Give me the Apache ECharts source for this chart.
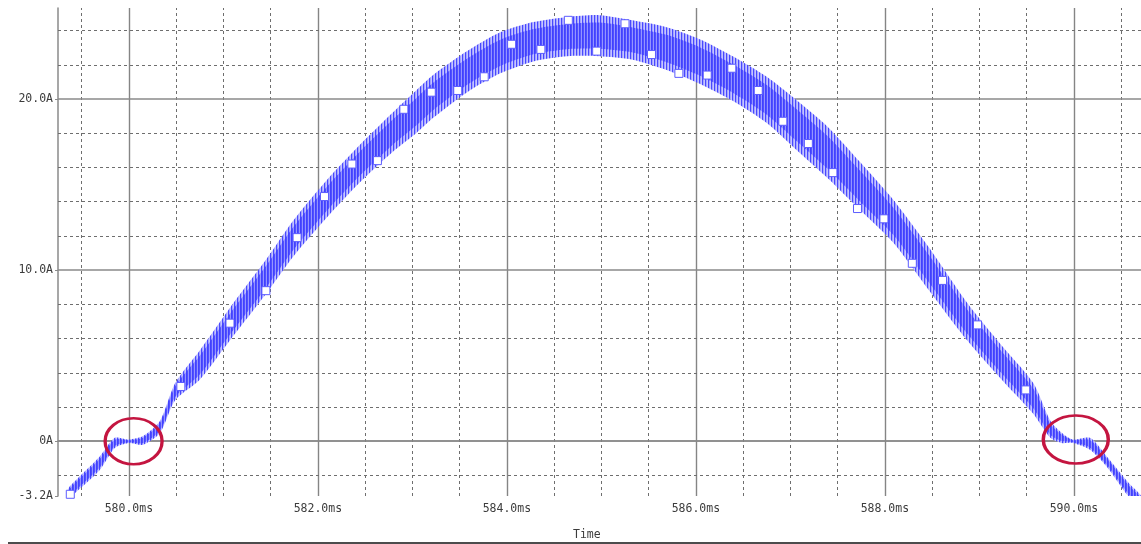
<!DOCTYPE html>
<html>
<head>
<meta charset="utf-8">
<script src="https://cdn.jsdelivr.net/npm/echarts@6/dist/echarts.min.js"></script>
<style>
  html, body { margin: 0; padding: 0; background: #fff; }
  #chart { width: 1141px; height: 544px; }
</style>
</head>
<body>
<div id="chart"></div>
<script>
// Inductor current, ripple band (ms, A)
const TIME_MS = [579.35, 579.38, 579.69, 579.85, 580.0, 580.15, 580.33, 580.49, 580.75, 581.07, 581.45, 581.74, 582.10, 582.44, 582.79, 583.04, 583.22, 583.58, 583.93, 584.28, 584.64, 584.98, 585.33, 585.69, 586.04, 586.39, 586.75, 587.05, 587.39, 587.74, 588.09, 588.47, 588.87, 589.22, 589.57, 589.75, 589.87, 589.99, 590.17, 590.35, 590.59, 590.71];
const RIPPLE_HIGH = [-2.9, -2.6, -0.9, 0.2, 0.1, 0.3, 1.2, 3.4, 5.3, 7.8, 10.6, 12.9, 15.3, 17.3, 19.2, 20.5, 21.4, 22.8, 23.9, 24.5, 24.8, 24.9, 24.6, 24.2, 23.5, 22.5, 21.3, 20.0, 18.4, 16.3, 14.1, 11.3, 8.1, 5.7, 3.4, 1.2, 0.5, 0.1, 0.2, -0.9, -2.5, -3.2];
const RIPPLE_LOW = [-3.6, -3.3, -1.7, -0.4, -0.1, -0.2, 0.5, 2.4, 3.6, 5.9, 8.6, 10.8, 13.1, 15.1, 16.9, 18.0, 18.9, 20.4, 21.5, 22.2, 22.5, 22.5, 22.3, 21.7, 20.9, 19.9, 18.6, 17.1, 15.4, 13.5, 11.6, 8.8, 5.9, 3.7, 1.6, 0.2, -0.1, -0.1, -0.5, -1.5, -3.3, -3.8];

// trace markers (squares)
const MARK_T = [579.38, 580.55, 581.07, 581.45, 581.78, 582.07, 582.36, 582.63, 582.91, 583.20, 583.48, 583.76, 584.05, 584.36, 584.65, 584.95, 585.25, 585.53, 585.82, 586.12, 586.38, 586.66, 586.92, 587.19, 587.45, 587.71, 587.99, 588.29, 588.61, 588.98, 589.49];
const MARK_I = [-3.1, 3.2, 6.9, 8.8, 11.9, 14.3, 16.2, 16.4, 19.4, 20.4, 20.5, 21.3, 23.2, 22.9, 24.6, 22.8, 24.4, 22.6, 21.5, 21.4, 21.8, 20.5, 18.7, 17.4, 15.7, 13.6, 13.0, 10.4, 9.4, 6.8, 3.0];

// red circles at the zero crossings
const CIRCLE_T = [580.05, 590.02];
const CIRCLE_I = [0.0, 0.1];

// axis ticks
const X_LABELS = [580, 582, 584, 586, 588, 590];
const X_MINOR = [579.5, 580.5, 581, 581.5, 582.5, 583, 583.5, 584.5, 585, 585.5, 586.5, 587, 587.5, 588.5, 589, 589.5, 590.5];
const Y_LABELS = [-3.2, 0, 10, 20];
const Y_MAJOR = [0, 10, 20];
const Y_MINOR = [-2, 2, 4, 6, 8, 12, 14, 16, 18, 22, 24];

const FONT = "'DejaVu Sans Mono', monospace";

function stripes(cols) {
  const c = document.createElement("canvas");
  c.width = cols.length; c.height = 1;
  const ctx = c.getContext("2d");
  cols.forEach((col, i) => { ctx.fillStyle = col; ctx.fillRect(i, 0, 1, 1); });
  return c;
}
const OUTER_FILL = { image: stripes(["#4848ff", "#a4a4ff", "#c6c6ff"]), repeat: "repeat" };
const INNER_FILL = { image: stripes(["#4040ff", "#5050ff", "#9494ff"]), repeat: "repeat" };

const chart = echarts.init(document.getElementById("chart"));

const gridLines = [
  ...X_MINOR.map(v => ({ xAxis: v, lineStyle: { type: [3, 3], color: "#6e6e6e", width: 1 } })),
  ...X_LABELS.map(v => ({ xAxis: v, lineStyle: { type: "solid", color: "#858585", width: 1.4 } })),
  ...Y_MINOR.map(v => ({ yAxis: v, lineStyle: { type: [3, 3], color: "#6e6e6e", width: 1 } })),
  ...Y_MAJOR.map(v => ({ yAxis: v, lineStyle: { type: "solid", color: "#8a8a8a", width: 1.6 } })),
];

// the ripple band as one polygon between the low and high envelope
function bandPolygon(api, lowFrac, highFrac, fill) {
  const top = [], bottom = [];
  TIME_MS.forEach((t, i) => {
    const lo = RIPPLE_LOW[i], hi = RIPPLE_HIGH[i], s = hi - lo;
    bottom.push(api.coord([t, lo + s * lowFrac]));
    top.push(api.coord([t, lo + s * highFrac]));
  });
  return {
    type: "polygon",
    shape: { points: bottom.concat(top.reverse()), smooth: 0.25 },
    style: { fill, stroke: null },
  };
}

chart.setOption({
  animation: false,
  backgroundColor: "#fff",
  grid: { left: 58, right: 0, top: 8, bottom: 48 },
  xAxis: {
    type: "value", min: 579.25, max: 590.71,
    axisLine: { lineStyle: { color: "#8a8a8a", width: 1.5 } },
    axisTick: { customValues: X_LABELS, length: 3, lineStyle: { color: "#8a8a8a" } },
    axisLabel: {
      customValues: X_LABELS, margin: 7,
      fontFamily: FONT, fontSize: 11.5, color: "#3c3c3c",
      formatter: v => v.toFixed(1) + "ms",
    },
    splitLine: { show: false },
  },
  yAxis: {
    type: "value", min: -3.2, max: 25.32,
    axisLine: { show: true, lineStyle: { color: "#8a8a8a", width: 1.5 } },
    axisTick: { show: true, customValues: Y_LABELS, length: 3, lineStyle: { color: "#8a8a8a" } },
    axisLabel: {
      customValues: Y_LABELS, margin: 5,
      fontFamily: FONT, fontSize: 11.5, color: "#3c3c3c",
      formatter: v => v === 0 ? "0A" : v.toFixed(1) + "A",
    },
    splitLine: { show: false },
  },
  graphic: [
    { type: "text", left: 573, top: 529, z: 10,
      style: { text: "Time", font: "11.5px " + FONT, fill: "#3c3c3c" } },
    { type: "line", z: 10, shape: { x1: 8, y1: 543, x2: 1141, y2: 543 },
      style: { stroke: "#111", lineWidth: 1.5 } },
  ],
  series: [
    {
      name: "grid", type: "line", data: [], silent: true,
      markLine: { silent: true, symbol: "none", z: 1, label: { show: false }, data: gridLines },
    },
    {
      name: "I(L1)", type: "custom", silent: true, clip: true, z: 3,
      data: TIME_MS.map((t, i) => [t, RIPPLE_LOW[i], RIPPLE_HIGH[i]]),
      encode: { x: 0, y: [1, 2] },
      renderItem: (params, api) => {
        if (params.dataIndex !== 0) return null;
        return {
          type: "group",
          children: [
            bandPolygon(api, 0, 1, OUTER_FILL),
            bandPolygon(api, 0.18, 0.82, INNER_FILL),
          ],
        };
      },
    },
    {
      name: "markers", type: "scatter", z: 5, silent: true,
      data: MARK_T.map((t, i) => [t, MARK_I[i]]),
      symbol: "rect", symbolSize: 8,
      itemStyle: { color: "#ffffff", borderColor: "#5c5cff", borderWidth: 1, opacity: 1 },
    },
    {
      name: "circles", type: "scatter", z: 6, silent: true,
      data: CIRCLE_T.map((t, i) => [t, CIRCLE_I[i]]),
      symbol: "path://M0,50 A50,50 0 1,1 100,50 A50,50 0 1,1 0,50 Z",
      symbolKeepAspect: false,
      symbolSize: (v, p) => p.dataIndex === 0 ? [57, 46] : [65, 48],
      itemStyle: { color: "rgba(0,0,0,0)", borderColor: "#c41540", borderWidth: 3, opacity: 1 },
    },
  ],
});
</script>
</body>
</html>
